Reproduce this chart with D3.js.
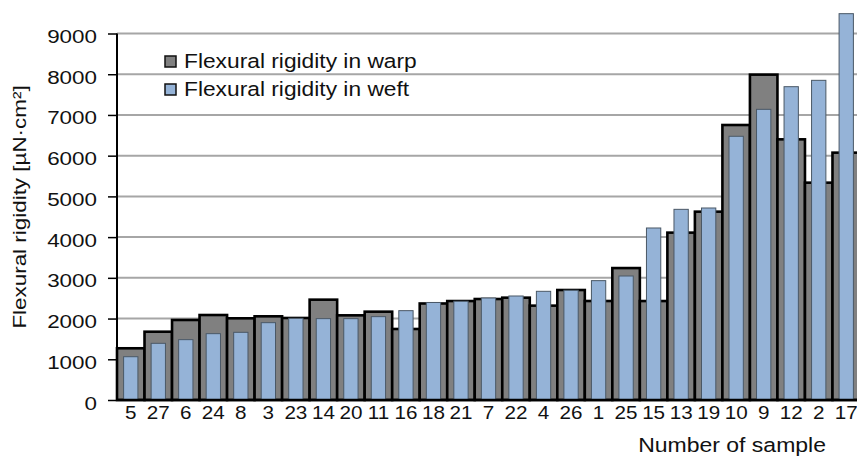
<!DOCTYPE html>
<html><head><meta charset="utf-8">
<script src="https://cdn.jsdelivr.net/npm/d3@7"></script>
<style>body{margin:0;background:#fff}svg{display:block}text{font-family:"Liberation Sans",Arial,sans-serif;fill:#111}</style>
</head><body>
<svg id="c" width="857" height="459"></svg>
<script>
const categories = ["5","27","6","24","8","3","23","14","20","11","16","18","21","7","22","4","26","1","25","15","13","19","10","9","12","2","17"];
const warp = [1270,1677,1965,2087,2006,2055,2014,2464,2079,2169,1744,2370,2430,2480,2513,2317,2701,2431,3240,2430,4110,4625,6753,7990,6401,5337,6074];
const weft = [1063,1392,1482,1629,1662,1899,2006,1998,1998,2047,2194,2395,2425,2505,2554,2669,2695,2931,3045,4224,4682,4715,6476,7138,7694,7850,9487];
const yTicks = [0,1000,2000,3000,4000,5000,6000,7000,8000,9000];
const seriesNames = ["Flexural rigidity in warp","Flexural rigidity in weft"];

const svg = d3.select("#c");
const SX = 1.18;
const x = d3.scaleBand().domain(categories).range([117, 860]).paddingInner(0).paddingOuter(0);
const y = d3.scaleLinear().domain([0, 9000]).range([400, 33.5]);

function stext(g, str, tx, ty, size, anchor, rot) {
  const t = g.append("g").attr("transform", `translate(${tx},${ty})` + (rot ? ` rotate(${rot})` : "") + ` scale(${SX},1)`);
  t.append("text").attr("font-size", size).attr("text-anchor", anchor).text(str);
  return t;
}

// gridlines
svg.append("g").selectAll("line").data(yTicks.filter(d => d > 0)).join("line")
  .attr("x1", 117).attr("x2", 857).attr("y1", d => y(d)).attr("y2", d => y(d))
  .attr("stroke", "#a6a6a6").attr("stroke-width", 2);

// warp bars
svg.append("g").selectAll("rect").data(categories).join("rect")
  .attr("x", d => x(d)).attr("width", x.bandwidth())
  .attr("y", (d, i) => y(warp[i])).attr("height", (d, i) => y(0) - y(warp[i]))
  .attr("fill", "#808080").attr("stroke", "#000").attr("stroke-width", 2.6);

// weft bars
const bw = x.bandwidth() * 0.52;
svg.append("g").selectAll("rect").data(categories).join("rect")
  .attr("x", d => x(d) + (x.bandwidth() - bw) / 2).attr("width", bw)
  .attr("y", (d, i) => y(weft[i])).attr("height", (d, i) => y(0) - y(weft[i]))
  .attr("fill", "#95b3d7").attr("stroke", "#4a5866").attr("stroke-width", 1);

// y axis
const ya = svg.append("g").attr("transform", "translate(117,0)")
  .call(d3.axisLeft(y).tickValues(yTicks).tickSize(9).tickFormat(""));
ya.select(".domain").attr("stroke", "#000").attr("stroke-width", 2).attr("d", `M0,${y(9000)}V${y(0)}`);
ya.selectAll(".tick line").attr("stroke", "#000").attr("stroke-width", 1.5);
const yl = svg.append("g");
yTicks.forEach(v => stext(yl, String(v), 97, y(v) + 9.5, 19, "end"));

// baseline
svg.append("line").attr("x1", 117).attr("x2", 857).attr("y1", y(0)).attr("y2", y(0))
  .attr("stroke", "#000").attr("stroke-width", 2.5);

// x labels
const xl = svg.append("g");
categories.forEach(c => stext(xl, c, x(c) + x.bandwidth() / 2, 418.5, 17.5, "middle"));

// axis titles
stext(svg, "Number of sample", 826, 452, 19.5, "end");
stext(svg, "Flexural rigidity [\u00b5N\u00b7cm\u00b2]", 26, 207, 19, "middle", -90);

// legend
const lg = svg.append("g");
const lc = ["#808080", "#95b3d7"];
seriesNames.forEach((n, i) => {
  const yy = 56 + i * 28;
  lg.append("rect").attr("x", 165).attr("y", yy).attr("width", 11).attr("height", 11)
    .attr("fill", lc[i]).attr("stroke", "#111").attr("stroke-width", 1.5);
  stext(lg, n, 184, yy + 11.5, 19.3, "start");
});
</script>
</body></html>
